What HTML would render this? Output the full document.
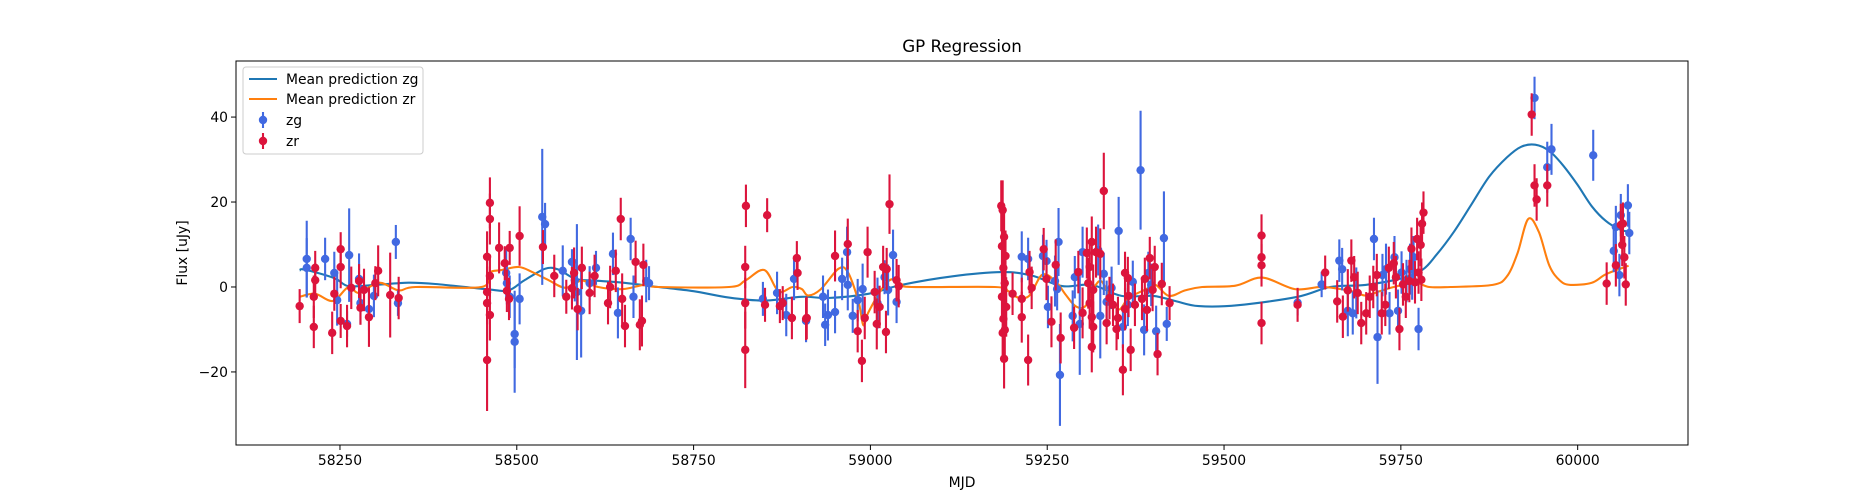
<!DOCTYPE html>
<html><head><meta charset="utf-8"><style>
html,body{margin:0;padding:0;background:#fff;}
svg{display:block;font-family:"DejaVu Sans","Liberation Sans",sans-serif;}
</style></head><body>
<svg id="chart" width="1875" height="500" viewBox="0 0 1875 500" xmlns="http://www.w3.org/2000/svg">
<rect width="1875" height="500" fill="#fff"/>
<text x="962" y="52" text-anchor="middle" font-size="16.7">GP Regression</text>
<text x="962" y="487" text-anchor="middle" font-size="13.9">MJD</text>
<text transform="translate(187,253) rotate(-90)" text-anchor="middle" font-size="13.9">Flux [uJy]</text>
<g id="lines"></g>
<g id="points"></g>
<g id="axes"></g>
<g id="legend"></g>
</svg>
<script>
const xTicks=[58250,58500,58750,59000,59250,59500,59750,60000];
const yTicks=[-20,0,20,40];
const zgPoints=[[58203,6.6,9],[58203,4.5,7],[58229,6.6,5],[58242,3.3,5],[58246,-3.1,6],[58263,7.5,11],[58277,1.9,6],[58279,-3.8,5],[58291,-5.2,5],[58298,-2.1,5],[58329,10.6,4],[58332,-3.8,3],[58260,-8.7,3],
[58485,3.3,6],[58486,0.9,5],[58490,-2.3,5],[58497,-11.1,8],[58497,-12.9,12],[58504,-2.8,6],[58536,16.5,16],[58540,14.8,5],[58565,3.8,6],[58578,5.9,3],[58582,1.6,5],[58585,-1.2,16],[58591,-5.6,11],[58603,0.9,4],[58612,4.5,4],[58636,7.8,5],[58643,-6.1,6],[58661,11.3,5],[58665,-2.3,5],[58683,1.4,5],[58687,0.9,4],
[58848,-2.8,4],[58868,-1.4,5],[58881,-6.6,5],[58892,1.9,5],[58909,-8.0,5],[58936,-8.9,5],[58933,-2.3,5],[58940,-6.6,6],[58950,-5.9,5],[58960,1.9,5],[58967,8.2,6],[58968,0.5,6],[58975,-6.8,4],[58982,-3.1,5],[58989,-0.5,6],[59010,-3.8,6],[59020,2.3,4],[59025,-0.7,6],[59032,7.5,6],[59037,-3.5,5],
[59214,7.1,6],[59223,6.6,5],[59244,7.3,5],[59249,6.1,5],[59251,-4.7,5],[59261,1.4,6],[59264,-0.5,5],[59266,10.6,8],[59268,-20.7,12],[59286,-6.8,6],[59289,2.3,5],[59296,-8.7,12],[59300,8.2,6],[59322,8.7,6],[59325,-6.8,10],[59330,3.1,5],[59334,-3.5,5],[59341,-0.2,5],[59351,13.2,8],[59357,-9.4,5],[59364,-4.2,5],[59371,1.2,5],[59382,27.5,14],[59387,-10.1,6],[59393,3.3,5],[59397,0.5,5],[59404,-10.4,6],[59415,11.5,11],[59419,-8.7,4],
[59604,-3.7,3],[59638,0.6,3],[59663,6.2,5],[59667,4.2,5],[59675,-5.6,6],[59682,-6.2,5],[59687,-1.4,6],[59712,11.3,5],[59717,-11.8,11],[59724,2.8,5],[59729,4.2,6],[59734,-6.2,5],[59741,7.0,5],[59746,-5.6,5],[59751,3.4,5],[59758,1.4,5],[59763,4.2,6],[59768,7.0,5],[59775,-9.9,5],[59766,2.0,5],
[59939,44.5,5],[59957,28.2,6],[59963,32.4,6],[60022,31.0,6],[60051,8.5,5],[60054,14.1,5],[60061,16.9,5],[60071,19.2,5],[60073,12.7,5],[60059,2.8,5]];
const zrPoints=[[58193,-4.5,4],[58215,4.5,4],[58215,1.6,4],[58213,-2.3,5],[58213,-9.4,5],[58239,-10.8,5],[58242,-1.6,4],[58251,8.9,4],[58251,4.7,5],[58251,-8.0,4],[58260,-9.2,5],[58266,-0.2,5],[58277,1.4,4],[58279,-4.9,4],[58284,-0.7,5],[58291,-7.1,7],[58300,0.9,4],[58304,3.8,6],[58321,-1.9,10],[58333,-2.6,5],
[58458,7.1,6],[58458,-3.8,5],[58458,-17.2,12],[58462,19.8,6],[58462,16.0,6],[58462,2.6,5],[58458,-1.2,6],[58462,-6.6,6],[58475,9.2,6],[58483,5.6,4],[58490,9.2,4],[58486,-0.9,5],[58489,-2.8,5],[58504,12.0,7],[58537,9.4,4],[58553,2.6,5],[58570,-2.3,4],[58578,-0.3,5],[58581,3.3,6],[58586,-5.2,5],[58592,4.5,5],[58603,-1.4,5],[58610,2.6,5],[58629,-3.8,5],[58632,0,5],[58640,3.8,5],[58647,16.0,5],[58649,-2.8,6],[58653,-9.2,5],[58668,5.9,5],[58674,-8.9,6],[58677,-8.0,6],[58679,5.2,5],
[58824,19.1,5],[58823,4.7,5],[58823,-3.8,6],[58823,-14.8,9],[58854,16.9,4],[58851,-4.2,4],[58872,-4.5,4],[58876,-3.8,4],[58889,-7.3,5],[58896,6.8,4],[58897,3.3,4],[58910,-7.3,5],[58909,-7.5,5],[58950,7.3,6],[58968,10.1,6],[58982,-10.4,5],[58988,-17.4,5],[58992,-7.3,5],[58996,8.2,6],[59006,-1.2,5],[59009,-8.7,6],[59013,-4.7,5],[59018,4.7,5],[59022,-10.6,5],[59023,4.2,5],[59027,19.5,7],[59037,1.6,5],[59040,0.2,5],
[59185,19.1,6],[59187,18.1,7],[59189,11.8,6],[59186,9.6,7],[59191,7.3,6],[59188,4.5,7],[59190,0.9,6],[59186,-2.3,6],[59192,-4.7,7],[59188,-7.5,6],[59190,-10.1,6],[59187,-10.8,7],[59189,-16.9,7],[59201,-1.6,5],[59214,-2.8,5],[59214,-7.1,6],[59223,-17.2,6],[59225,3.5,5],[59228,-0.2,5],[59245,8.9,5],[59249,1.9,5],[59256,-8.2,6],[59262,5.2,6],[59269,-12.0,6],[59288,-9.6,5],[59294,3.5,5],[59300,-6.1,6],[59313,10.6,6],[59306,8.0,6],[59310,4.7,6],[59308,0.9,6],[59315,-0.7,6],[59310,-3.8,6],[59313,-7.1,6],[59315,-9.4,6],[59313,-14.1,6],[59319,8.2,6],[59325,7.8,6],[59330,22.6,9],[59334,-8.5,5],[59338,-2.6,5],[59343,-4.2,5],[59350,-7.3,5],[59348,-9.9,5],[59357,-19.5,6],[59360,3.3,5],[59364,2.1,5],[59360,-5.2,5],[59368,-14.8,5],[59365,-2.1,5],[59374,-4.2,5],[59384,-2.8,5],[59388,1.9,5],[59391,-5.4,5],[59395,6.8,5],[59402,4.7,5],[59399,-0.7,5],[59406,-15.8,5],[59412,0.7,5],[59423,-3.8,4],
[59553,12.1,5],[59553,7.0,5],[59553,5.1,5],[59553,-8.5,5],[59604,-4.2,4],[59643,3.4,4],[59660,-3.4,5],[59668,-7.0,5],[59675,-0.8,5],[59680,6.2,5],[59684,2.3,5],[59689,-1.4,5],[59694,-8.5,5],[59701,-6.2,5],[59706,-2.3,5],[59711,0,5],[59716,2.8,5],[59723,-6.2,5],[59728,-4.2,5],[59733,4.5,5],[59740,5.6,5],[59743,2.3,5],[59748,-9.9,5],[59753,0.6,5],[59757,-2.3,5],[59762,1.4,5],[59765,9.0,5],[59770,1.1,5],[59775,3.4,5],[59778,9.9,5],[59780,14.9,5],[59782,17.5,5],[59779,1.7,5],[59773,11.3,5],
[59935,40.6,5],[59939,23.9,5],[59942,20.6,5],[59957,23.9,5],[60041,0.8,5],[60054,5.1,5],[60061,14.6,5],[60063,9.9,5],[60066,7.0,5],[60068,0.6,5],[60064,14.9,5]];
const zgLineMjd=[58193,58200,58242,58262,58300,58347,58385,58456,58488,58510,58540,58559,58583,58610,58650,58700,58750,58800,58850,58903,58940,58997,59044,59115,59186,59228,59271,59313,59355,59400,59431,59464,59520,59604,59650,59700,59750,59780,59800,59825,59850,59875,59900,59920,59940,59960,59980,60000,60020,60040,60060,60072];
const zgLineVal=[3.9,4.1,2.1,0.2,0.5,1.0,0.7,-0.5,-0.8,1.5,4.3,4.1,1.9,1.5,1.0,0,-1,-2.5,-3.2,-2.3,-2.6,-1.6,0.5,2.5,3.5,2.7,0.2,0.5,-2.1,-2.1,-3.3,-4.5,-4.3,-2.3,0,0.5,2,4,7.5,13,19.5,26,30.5,33,33.5,32,28.5,24,19,15.5,13.5,13];
const zrLineMjd=[58193,58215,58240,58262,58277,58305,58333,58357,58450,58460,58479,58503,58522,58545,58569,58592,58615,58650,58680,58700,58800,58823,58850,58870,58890,58903,58912,58930,58955,58968,58983,58990,58997,59016,59030,59044,59058,59176,59195,59209,59225,59243,59262,59276,59290,59304,59318,59327,59337,59351,59365,59389,59403,59422,59445,59469,59516,59554,59600,59640,59680,59700,59720,59740,59770,59790,59820,59880,59900,59915,59930,59945,59960,59975,59990,60020,60040,60072];
const zrLineVal=[-2.3,-1.6,-3.3,0,-1.4,1,-0.8,0,0,3.3,4,4.7,3.5,1.6,-0.2,1.5,0,-0.5,0.5,0,0,1.5,4,-1,0,-0.5,-2,-0.5,4.3,3.5,-3.3,-9,-6,-0.5,1.8,0.7,0,0,-1,-2.5,-2,2.9,1.3,-1.8,-4.5,-4.5,0.3,1.3,-1.8,-5.3,-2.6,-0.6,0.5,-2.1,-0.8,0,0.3,2.2,-0.5,0,-1,-2,-1,0,1,0,0,0.5,2.5,8,16,13,5,1.5,0.5,1,3,5];

const X0=236,X1=1688,Y0=61,Y1=445;
const xMin=58103,xMax=60156,yMin=-37.2,yMax=53.2;
function sx(v){return X0+(v-xMin)/(xMax-xMin)*(X1-X0);}
function sy(v){return Y1-(v-yMin)/(yMax-yMin)*(Y1-Y0);}
const NS="http://www.w3.org/2000/svg";
function mk(tag,attrs,parent){const e=document.createElementNS(NS,tag);for(const k in attrs)e.setAttribute(k,attrs[k]);parent.appendChild(e);return e;}

const gl=document.getElementById('lines');
function drawLine(mj,vals,color,name){
  const P=mj.map((m,i)=>[sx(m),sy(vals[i])]);
  let d='M'+P[0][0].toFixed(1)+','+P[0][1].toFixed(1);
  for(let i=0;i<P.length-1;i++){
    const p0=P[Math.max(0,i-1)],p1=P[i],p2=P[i+1],p3=P[Math.min(P.length-1,i+2)];
    const c1=[p1[0]+(p2[0]-p0[0])/6,p1[1]+(p2[1]-p0[1])/6];
    const c2=[p2[0]-(p3[0]-p1[0])/6,p2[1]-(p3[1]-p1[1])/6];
    d+=' C'+c1[0].toFixed(1)+','+c1[1].toFixed(1)+' '+c2[0].toFixed(1)+','+c2[1].toFixed(1)+' '+p2[0].toFixed(1)+','+p2[1].toFixed(1);
  }
  const p=mk('path',{d:d,fill:'none',stroke:color,'stroke-width':2.1,'stroke-linejoin':'round'},gl);
  
  
}
drawLine(zgLineMjd,zgLineVal,'#1f77b4','mean-prediction-zg-line');
drawLine(zrLineMjd,zrLineVal,'#ff7f0e','mean-prediction-zr-line');

const gp=document.getElementById('points');
function drawPts(pts,color,name){
  const g=mk('g',{},gp);
  
  
  pts.forEach(p=>{
    const x=sx(p[0]);
    const eb=mk('line',{x1:x,x2:x,y1:sy(p[1]-p[2]),y2:sy(p[1]+p[2]),stroke:color,'stroke-width':2.1},g);
    
    
    const c=mk('circle',{cx:x,cy:sy(p[1]),r:4.2,fill:color},g);
    
    
  });
}
drawPts(zgPoints,'#4169e1','zg-series');
drawPts(zrPoints,'#dc143c','zr-series');

const ga=document.getElementById('axes');
const fr=mk('rect',{x:X0,y:Y0,width:X1-X0,height:Y1-Y0,fill:'none',stroke:'#000','stroke-width':1},ga);


xTicks.forEach(t=>{
  const x=sx(t);
  mk('line',{x1:x,x2:x,y1:Y1,y2:Y1+5,stroke:'#000','stroke-width':1},ga);
  const tx=mk('text',{x:x,y:Y1+20,'text-anchor':'middle','font-size':13.9},ga);
  tx.textContent=t;
  
  
});
yTicks.forEach(t=>{
  const y=sy(t);
  mk('line',{x1:X0-5,x2:X0,y1:y,y2:y,stroke:'#000','stroke-width':1},ga);
  const tx=mk('text',{x:X0-8,y:y+5,'text-anchor':'end','font-size':13.9},ga);
  tx.textContent=(t<0?'\u2212'+(-t):t);
  
  
});

const lg=document.getElementById('legend');
const box=mk('rect',{x:243,y:67,width:180,height:87,rx:3,fill:'#fff','fill-opacity':0.8,stroke:'#ccc','stroke-width':1},lg);


const entries=[['line','#1f77b4','Mean prediction zg',79],['line','#ff7f0e','Mean prediction zr',99],['pt','#4169e1','zg',120],['pt','#dc143c','zr',141]];
entries.forEach(e=>{
  const g=mk('g',{},lg);
  
  
  if(e[0]==='line'){mk('line',{x1:249,x2:277,y1:e[3],y2:e[3],stroke:e[1],'stroke-width':2.1},g);}
  else{mk('line',{x1:263,x2:263,y1:e[3]-8,y2:e[3]+8,stroke:e[1],'stroke-width':2.1},g);mk('circle',{cx:263,cy:e[3],r:4.2,fill:e[1]},g);}
  const t=mk('text',{x:286,y:e[3]+5,'font-size':13.9},g);
  t.textContent=e[2];
});
</script>
</body></html>
